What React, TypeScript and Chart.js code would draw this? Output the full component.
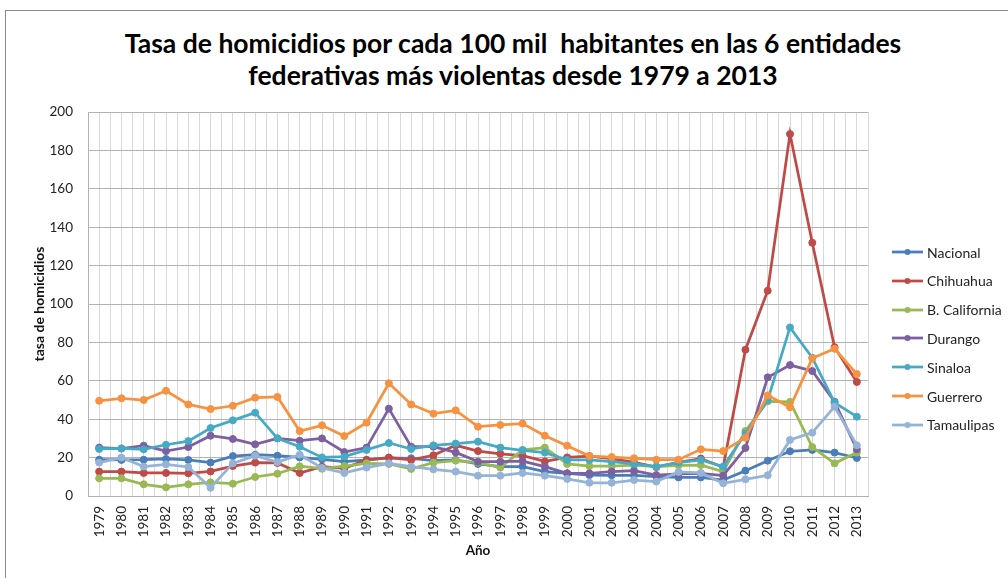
import React, { useEffect, useRef } from "react";
import { Chart, registerables } from "chart.js";

Chart.register(...registerables);

const years = [
  "1979", "1980", "1981", "1982", "1983", "1984", "1985", "1986", "1987", "1988",
  "1989", "1990", "1991", "1992", "1993", "1994", "1995", "1996", "1997", "1998",
  "1999", "2000", "2001", "2002", "2003", "2004", "2005", "2006", "2007", "2008",
  "2009", "2010", "2011", "2012", "2013",
];

const nacional = [
  18.9, 18.8, 18.9, 19.3, 18.8, 17.4, 20.8, 21.5, 21.0, 20.1,
  19.1, 17.9, 18.8, 19.9, 19.6, 18.4, 18.8, 16.7, 15.3, 15.3,
  12.7, 11.8, 10.9, 10.8, 10.8, 10.1, 9.7, 9.7, 8.3, 13.2,
  18.4, 23.3, 24.0, 22.6, 19.8,
];
const chihuahua = [
  12.7, 12.7, 12.0, 12.0, 11.8, 12.8, 15.6, 17.4, 17.2, 12.0,
  15.3, 14.4, 18.8, 20.0, 18.8, 21.2, 26.4, 23.4, 22.0, 21.0,
  18.0, 20.1, 20.8, 19.5, 17.5, 15.0, 17.5, 19.5, 15.0, 76.2,
  106.9, 188.5, 131.9, 77.5, 59.4,
];
const bCalifornia = [
  9.2, 9.2, 6.1, 4.5, 6.1, 7.1, 6.4, 9.9, 11.6, 15.5,
  14.2, 15.6, 17.0, 16.7, 14.1, 17.4, 18.4, 17.4, 14.8, 24.0,
  25.2, 16.7, 15.6, 15.6, 16.1, 15.3, 16.0, 16.1, 12.7, 33.9,
  49.3, 49.0, 25.5, 17.0, 22.6,
];
const durango = [
  25.2, 24.7, 26.2, 23.4, 25.5, 31.4, 29.7, 26.9, 30.0, 28.8,
  30.0, 22.9, 25.2, 45.5, 25.7, 25.7, 22.7, 17.9, 17.9, 18.2,
  15.3, 11.8, 11.8, 12.7, 13.2, 10.9, 11.5, 11.8, 10.6, 25.0,
  61.8, 68.2, 65.1, 49.1, 24.3,
];
const sinaloa = [
  24.5, 24.8, 24.3, 26.7, 28.6, 35.4, 39.4, 43.4, 30.0, 25.7,
  20.1, 20.5, 24.0, 27.6, 24.5, 26.4, 27.3, 28.3, 25.2, 23.8,
  22.6, 18.8, 18.8, 17.9, 16.7, 15.3, 17.4, 18.8, 15.3, 32.6,
  50.0, 87.8, 72.0, 48.6, 41.3,
];
const guerrero = [
  49.6, 50.9, 50.0, 54.8, 47.7, 45.3, 47.0, 51.2, 51.6, 33.8,
  36.8, 31.2, 38.2, 58.7, 47.7, 42.9, 44.6, 36.1, 37.0, 37.7,
  31.4, 26.2, 20.8, 20.3, 19.6, 18.9, 18.9, 24.3, 23.4, 30.4,
  52.4, 46.2, 71.7, 76.7, 63.5,
];
const tamaulipas = [
  17.4, 20.0, 15.3, 16.5, 15.1, 4.3, 17.0, 21.0, 17.7, 21.5,
  14.6, 12.0, 14.8, 17.0, 15.3, 13.9, 12.7, 10.6, 10.6, 12.0,
  10.6, 8.9, 6.9, 6.9, 8.3, 7.5, 12.5, 12.0, 6.6, 8.7,
  10.8, 29.2, 33.0, 46.5, 26.4,
];

const seriesNames = ["Nacional", "Chihuahua", "B. California", "Durango", "Sinaloa", "Guerrero", "Tamaulipas"];
const seriesData = [nacional, chihuahua, bCalifornia, durango, sinaloa, guerrero, tamaulipas];
const seriesColors = ["#4A7EBB", "#BE4B48", "#98B954", "#7D60A0", "#46AAC5", "#F69240", "#95B3D7"];

const titleLines = [
  "Tasa de homicidios por cada 100 mil  habitantes en las 6 entidades",
  "federativas más violentas desde 1979 a 2013",
];

const FONT = "Lato, 'Open Sans', sans-serif";

export default function App() {
  const canvasRef = useRef<HTMLCanvasElement | null>(null);

  useEffect(() => {
    if (!canvasRef.current) return;
    const n = seriesNames.length;
    const chart = new Chart(canvasRef.current, {
      type: "line",
      data: {
        labels: years,
        datasets: seriesNames.map((name, i) => ({
          label: name,
          data: seriesData[i],
          borderColor: seriesColors[i],
          backgroundColor: seriesColors[i],
          pointBackgroundColor: seriesColors[i],
          pointBorderColor: seriesColors[i],
          borderWidth: 2.75,
          pointRadius: 3.5,
          pointBorderWidth: 1,
          tension: 0,
          fill: false,
          order: n - 1 - i,
          xAxisID: "x",
          yAxisID: "y",
        })),
      },
      options: {
        responsive: false,
        animation: false,
        devicePixelRatio: 1,
        layout: { padding: { left: 0, top: 112, right: 140, bottom: 0 } },
        plugins: {
          legend: { display: false },
          title: { display: false },
          tooltip: { enabled: false },
        },
        scales: {
          x: {
            type: "category",
            position: "bottom",
            offset: true,
            grid: { offset: false, color: "#d9d9d9", drawTicks: false, lineWidth: 1 },
            border: { color: "#b0b0b0" },
            ticks: {
              autoSkip: false,
              minRotation: 90,
              maxRotation: 90,
              padding: 10,
              color: "#222",
              font: { family: FONT, size: 13.5 },
            },
            title: {
              display: true,
              text: "Año",
              color: "#111",
              font: { family: FONT, size: 13.5, weight: "bold" },
              padding: { top: 0, bottom: 19 },
            },
            afterFit: (scale: any) => {
              scale.height = 82;
            },
          },
          x2: {
            type: "category",
            position: "bottom",
            offset: true,
            grid: { offset: true, color: "#d9d9d9", drawTicks: false, lineWidth: 1 },
            border: { display: false },
            ticks: { display: false },
            afterFit: (scale: any) => {
              scale.height = 0;
            },
          },
          y: {
            min: 0,
            max: 200,
            ticks: {
              stepSize: 20,
              padding: 15,
              color: "#222",
              font: { family: FONT, size: 13.5 },
            },
            grid: { color: "#b3b3b3", drawTicks: false },
            border: { color: "#b3b3b3" },
            title: {
              display: true,
              text: "tasa de homicidios",
              color: "#111",
              font: { family: FONT, size: 14, weight: "bold" },
              padding: { top: 31, bottom: 0 },
            },
            afterFit: (scale: any) => {
              scale.width = 88;
            },
          },
        },
      },
    });
    return () => chart.destroy();
  }, []);

  const legendTop = 252;
  const legendStep = 28.8;

  return (
    <div
      style={{
        position: "absolute",
        left: 0,
        top: 0,
        width: 1008,
        height: 578,
        overflow: "hidden",
        background: "#fff",
      }}
    >
      <div
        style={{
          position: "absolute",
          left: 5,
          top: 10,
          width: 1200,
          height: 800,
          borderLeft: "1px solid #8a8a8a",
          borderTop: "1px solid #8a8a8a",
        }}
      />
      <div
        style={{
          position: "absolute",
          left: 63,
          top: 27,
          width: 900,
          textAlign: "center",
          fontFamily: FONT,
          fontWeight: "bold",
          fontSize: 26.5,
          lineHeight: "32px",
          color: "#000",
          whiteSpace: "pre",
        }}
      >
        {titleLines.map((t, i) => (
          <div key={i}>{t}</div>
        ))}
      </div>
      <canvas
        ref={canvasRef}
        width={1008}
        height={578}
        style={{ position: "absolute", left: 0, top: 0, width: 1008, height: 578, display: "block" }}
      />
      {seriesNames.map((name, i) => (
        <div
          key={name}
          style={{
            position: "absolute",
            left: 892,
            top: legendTop + i * legendStep - 10,
            height: 20,
            display: "flex",
            alignItems: "center",
            fontFamily: FONT,
            fontSize: 14,
            color: "#222",
            whiteSpace: "nowrap",
          }}
        >
          <svg width={32} height={10} style={{ display: "block", marginRight: 3 }}>
            <line x1={0} y1={5} x2={31} y2={5} stroke={seriesColors[i]} strokeWidth={2.75} />
            <circle cx={15.5} cy={5} r={3} fill={seriesColors[i]} />
          </svg>
          <span>{name}</span>
        </div>
      ))}
    </div>
  );
}
